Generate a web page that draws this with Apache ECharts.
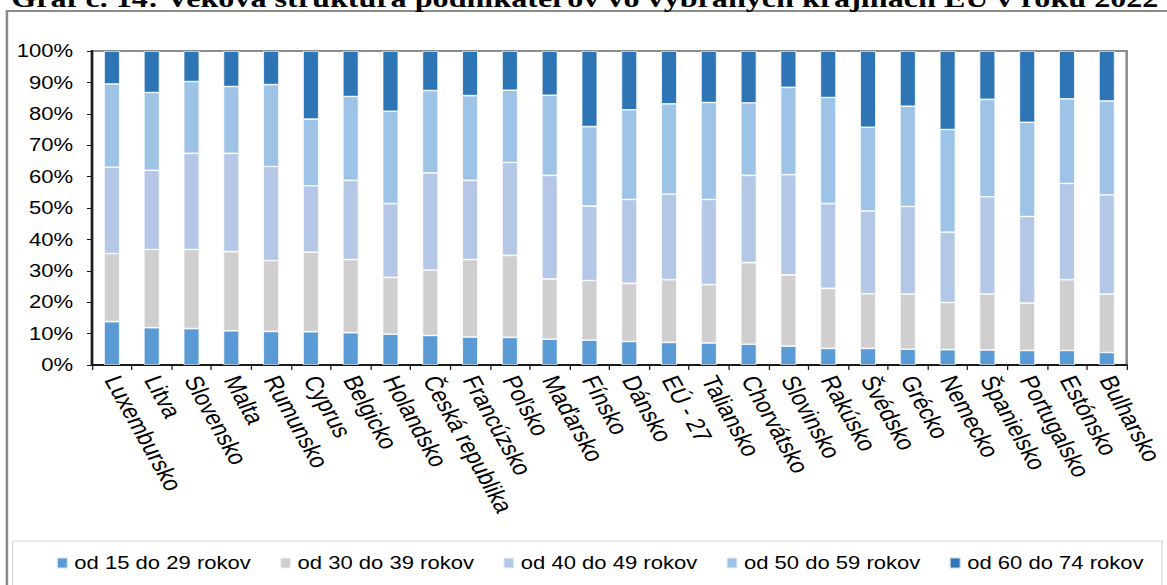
<!DOCTYPE html>
<html>
<head>
<meta charset="utf-8">
<script src="https://cdn.jsdelivr.net/npm/echarts@6/dist/echarts.min.js"></script>
<style>
html,body{margin:0;padding:0;background:#fff;overflow:hidden;}
#c{width:926px;height:585px;transform:scaleX(1.2603);transform-origin:0 0;}
</style>
</head>
<body>
<div id="c"></div>
<script>
const titleText = 'Graf č. 14: Veková štruktúra podnikateľov vo vybraných krajinách EÚ v roku 2022';
const categories = ['Luxembursko','Litva','Slovensko','Malta','Rumunsko','Cyprus','Belgicko','Holandsko','Česká republika','Francúzsko','Poľsko','Maďarsko','Fínsko','Dánsko','EÚ - 27','Taliansko','Chorvátsko','Slovinsko','Rakúsko','Švédsko','Grécko','Nemecko','Španielsko','Portugalsko','Estónsko','Bulharsko'];
const seriesNames = ['od 15 do 29 rokov','od 30 do 39 rokov','od 40 do 49 rokov','od 50 do 59 rokov','od 60 do 74 rokov'];
const age15_29 = [13.8,11.9,11.6,10.9,10.7,10.6,10.3,9.8,9.4,8.9,8.8,8.2,7.9,7.5,7.2,7.0,6.6,6.0,5.3,5.3,5.0,4.9,4.8,4.6,4.6,4.0];
const age30_39 = [21.7,24.9,25.2,25.2,22.6,25.3,23.3,18.1,20.8,24.7,26.1,19.2,19.0,18.5,20.0,18.6,26.0,22.7,19.1,17.4,17.6,15.0,17.8,15.1,22.6,18.6];
const age40_49 = [27.5,25.2,30.6,31.3,29.9,21.2,25.2,23.5,31.0,25.2,29.6,33.0,23.7,26.7,27.2,27.1,27.8,31.9,27.0,26.4,27.9,22.4,31.0,27.6,30.6,31.6];
const age50_59 = [26.5,24.8,22.9,21.3,26.1,21.2,26.7,29.4,26.2,27.0,23.0,25.5,25.3,28.6,28.8,30.9,23.1,27.8,33.8,26.6,31.9,32.7,31.0,30.0,27.0,29.9];
const age60_74 = [10.5,13.2,9.7,11.3,10.7,21.7,14.5,19.2,12.6,14.2,12.5,14.1,24.1,18.7,16.8,16.4,16.5,11.6,14.8,24.3,17.6,25.0,15.4,22.7,15.2,15.9];
const yTicks = [0,10,20,30,40,50,60,70,80,90,100];
const colors = ['#5B9BD5','#D0CECE','#B4C7E7','#9DC3E6','#2E75B6'];
const seriesData = [age15_29, age30_39, age40_49, age50_59, age60_74];

const font = "'Liberation Sans', Arial, sans-serif";
const chart = echarts.init(document.getElementById('c'), null, {renderer:'svg'});
chart.setOption({
  animation:false,
  color:colors,
  title:{
    text:titleText, left:4, top:-20,
    textStyle:{fontFamily:"'Liberation Serif','Times New Roman',serif",fontWeight:'bold',fontSize:25.5,color:'#000'}
  },
  graphic:[
    {type:'rect',shape:{x:5.5,y:11,width:1000,height:700},style:{fill:'none',stroke:'#8a8a8a',lineWidth:2},silent:true,z:-10},
    {type:'rect',shape:{x:10,y:541,width:912,height:80},style:{fill:'none',stroke:'#d9d9d9',lineWidth:1},silent:true,z:-10}
  ],
  grid:{left:73,right:27.6,top:51,bottom:220,show:true,borderColor:'#8c8c8c',borderWidth:2,backgroundColor:'transparent'},
  legend:{
    left:44, top:554, itemWidth:9, itemHeight:11, itemGap:22, padding:0,
    icon:'rect',
    textStyle:{fontFamily:font,fontSize:17.5,color:'#000'},
    data:seriesNames
  },
  xAxis:{
    type:'category', data:categories,
    axisLine:{lineStyle:{color:'#1a1a1a',width:2}},
    axisTick:{show:true,interval:0,length:5,lineStyle:{color:'#1a1a1a',width:1}},
    axisLabel:{interval:0,rotate:-66,margin:12,fontFamily:font,fontSize:20.5,color:'#000'}
  },
  yAxis:{
    type:'value', min:0, max:100, interval:10,
    axisLine:{show:true,lineStyle:{color:'#1a1a1a',width:2}},
    axisTick:{show:true,length:4,lineStyle:{color:'#1a1a1a',width:1}},
    splitLine:{show:false},
    axisLabel:{formatter:v=>yTicks.indexOf(v)>=0?v+'%':'',margin:15,fontFamily:font,fontSize:17.5,color:'#000'}
  },
  series:seriesNames.map((n,i)=>({
    name:n, type:'bar', stack:'total', data:seriesData[i], barWidth:12.7,
    itemStyle:{color:colors[i],borderColor:'rgba(255,255,255,0.75)',borderWidth:0.8}
  }))
});
</script>
</body>
</html>
